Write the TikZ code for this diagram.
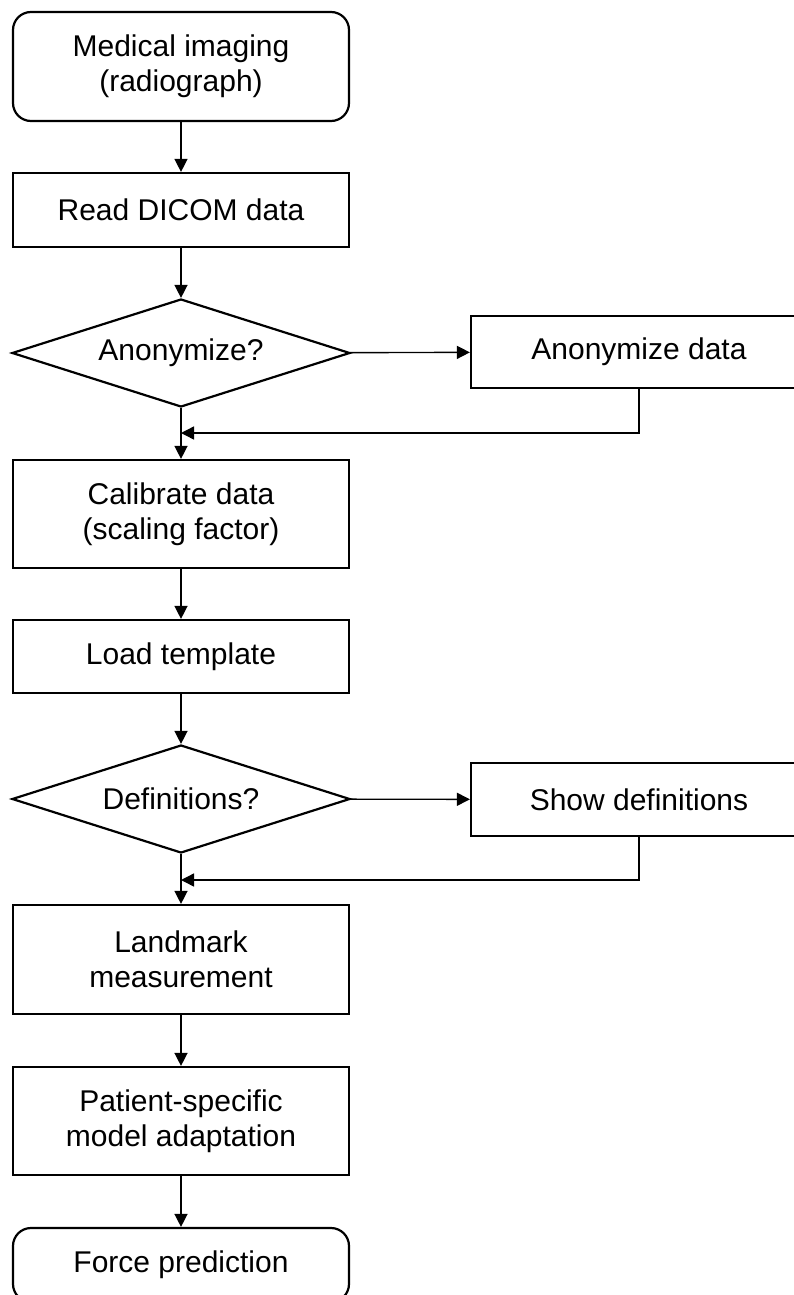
\documentclass[tikz,border=0pt]{standalone}
\usepackage{fontspec}
\setmainfont{Liberation Sans}
\usetikzlibrary{shapes.geometric,arrows.meta}

\tikzset{
  boxline/.style={draw, line width=2.2pt, align=center, inner sep=0pt,
    minimum width=336pt, font=\fontsize{30}{35}\selectfont},
  terminal/.style={boxline, rectangle, rounded corners=18pt},
  process/.style={boxline, rectangle},
  decision/.style={boxline, diamond, aspect=3.1, minimum width=338pt,
    minimum height=108pt},
  flow/.style={line width=1.4pt, -{Triangle[length=13pt,width=13pt]}},
  plain/.style={line width=1.4pt}
}

\begin{document}
\begin{tikzpicture}[x=1pt,y=-1pt]
  \useasboundingbox (0,0) rectangle (793,1295);

  % main column
  \node[terminal, minimum height=109pt] (imaging) at (181,66.5)
    {Medical imaging\\(radiograph)};
  \node[process, minimum height=74pt] (dicom) at (181,210) {Read DICOM data};
  \node[decision] (anonq) at (181,353) {Anonymize?};
  \node[process, minimum height=108pt] (calib) at (181,514)
    {Calibrate data\\(scaling factor)};
  \node[process, minimum height=73pt] (template) at (181,656.5) {Load template};
  \node[decision] (defq) at (181,799) {Definitions?};
  \node[process, minimum height=109pt] (landmark) at (181,959.5)
    {Landmark\\measurement};
  \node[process, minimum height=108pt] (adapt) at (181,1121)
    {Patient-specific\\model adaptation};
  \node[terminal, minimum height=74pt] (force) at (181,1265) {Force prediction};

  % side branches
  \node[process, minimum height=72pt] (anon) at (639,352) {Anonymize data};
  \node[process, minimum height=73pt] (showdef) at (639,799.5) {Show definitions};
  \coordinate (merge1) at (181,433);
  \coordinate (merge2) at (181,880);

  % connectors
  \draw[flow] (imaging) -- (dicom);
  \draw[flow] (dicom) -- (anonq);
  \draw[flow] (anonq) -- (anon);
  \draw[flow] (anonq) -- (calib);
  \draw[flow] (anon) |- (merge1);
  \draw[flow] (calib) -- (template);
  \draw[flow] (template) -- (defq);
  \draw[flow] (defq) -- (showdef);
  \draw[flow] (defq) -- (landmark);
  \draw[flow] (showdef) |- (merge2);
  \draw[flow] (landmark) -- (adapt);
  \draw[flow] (adapt) -- (force);
\end{tikzpicture}
\end{document}
